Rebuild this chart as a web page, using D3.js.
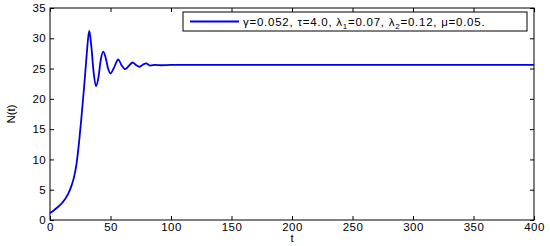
<!DOCTYPE html>
<html>
<head>
<meta charset="utf-8">
<script src="https://cdn.jsdelivr.net/npm/d3@7"></script>
<style>
  body { margin: 0; background: #fff; }
  text { font-family: "Liberation Sans", Arial, sans-serif; }
</style>
</head>
<body>
<svg id="chart" width="550" height="246"></svg>
<script>
// data
const tVals = [0, 5, 10, 15, 18, 20, 22, 24, 26, 28, 30, 31.5, 32.5, 34, 36, 38, 40, 42, 44, 46, 48, 50,
  53, 56.4, 59, 62.2, 65, 68.3, 71, 73.8, 76.5, 79.3, 83, 87, 92, 100, 400];
const nVals = [1.1, 1.9, 2.8, 4.3, 5.8, 7.2, 9.4, 12.8, 17, 21.5, 26.5, 30, 31.2, 29, 24.5, 22.1, 23.5, 26.5, 27.8, 26.8, 25, 24.2,
  25.2, 26.5, 25.6, 24.9, 25.4, 26.0, 25.6, 25.3, 25.6, 25.85, 25.5, 25.6, 25.55, 25.6, 25.6];
const xTicks = [0, 50, 100, 150, 200, 250, 300, 350, 400];
const yTicks = [0, 5, 10, 15, 20, 25, 30, 35];

const svg = d3.select("#chart");
const m = { left: 50, right: 534, top: 8, bottom: 220 };

const x = d3.scaleLinear().domain([0, 400]).range([m.left, m.right]);
const y = d3.scaleLinear().domain([0, 35]).range([m.bottom, m.top]);

// axes box
svg.append("rect")
  .attr("x", m.left).attr("y", m.top)
  .attr("width", m.right - m.left).attr("height", m.bottom - m.top)
  .attr("fill", "none").attr("stroke", "#000").attr("stroke-width", 1);

const tickLen = 4;
const axB = svg.append("g").attr("transform", `translate(0,${m.bottom})`)
  .call(d3.axisBottom(x).tickValues(xTicks).tickSizeInner(-tickLen).tickSizeOuter(0).tickPadding(3));
const axT = svg.append("g").attr("transform", `translate(0,${m.top})`)
  .call(d3.axisTop(x).tickValues(xTicks).tickSizeInner(-tickLen).tickSizeOuter(0).tickFormat(""));
const axL = svg.append("g").attr("transform", `translate(${m.left},0)`)
  .call(d3.axisLeft(y).tickValues(yTicks).tickSizeInner(-tickLen).tickSizeOuter(0).tickPadding(4));
const axR = svg.append("g").attr("transform", `translate(${m.right},0)`)
  .call(d3.axisRight(y).tickValues(yTicks).tickSizeInner(-tickLen).tickSizeOuter(0).tickFormat(""));

[axB, axT, axL, axR].forEach(a => {
  a.select(".domain").remove();
  a.selectAll("line").attr("stroke", "#000");
  a.selectAll("text").attr("font-size", 11.5).attr("fill", "#000")
    .attr("letter-spacing", 0.4)
    .style("font-family", "'Liberation Sans', Arial, sans-serif");
});

// curve
const pts = tVals.map((t, i) => [t, nVals[i]]);
svg.append("path")
  .datum(pts)
  .attr("fill", "none")
  .attr("stroke", "#0000e6")
  .attr("stroke-width", 1.8)
  .attr("d", d3.line().x(d => x(d[0])).y(d => y(d[1])).curve(d3.curveMonotoneX));

// axis labels
svg.append("text")
  .attr("x", (m.left + m.right) / 2).attr("y", 242)
  .attr("text-anchor", "middle").attr("font-size", 11.5)
  .text("t");
svg.append("text")
  .attr("transform", `translate(15,${(m.top + m.bottom) / 2}) rotate(-90)`)
  .attr("text-anchor", "middle").attr("font-size", 11.5)
  .text("N(t)");

// legend
const lg = svg.append("g");
lg.append("rect")
  .attr("x", 183).attr("y", 12).attr("width", 344).attr("height", 19)
  .attr("fill", "#fff").attr("stroke", "#000").attr("stroke-width", 1);
lg.append("line")
  .attr("x1", 190).attr("x2", 239).attr("y1", 21.5).attr("y2", 21.5)
  .attr("stroke", "#0000e6").attr("stroke-width", 1.8);
const lt = lg.append("text").attr("x", 243).attr("y", 25.5).attr("font-size", 11.5)
  .attr("letter-spacing", 0.75);
lt.append("tspan").text("\u03b3=0.052, \u03c4=4.0, \u03bb");
lt.append("tspan").attr("font-size", 8).attr("dy", 3).text("1");
lt.append("tspan").attr("dy", -3).text("=0.07, \u03bb");
lt.append("tspan").attr("font-size", 8).attr("dy", 3).text("2");
lt.append("tspan").attr("dy", -3).text("=0.12, \u03bc=0.05.");
</script>
</body>
</html>
